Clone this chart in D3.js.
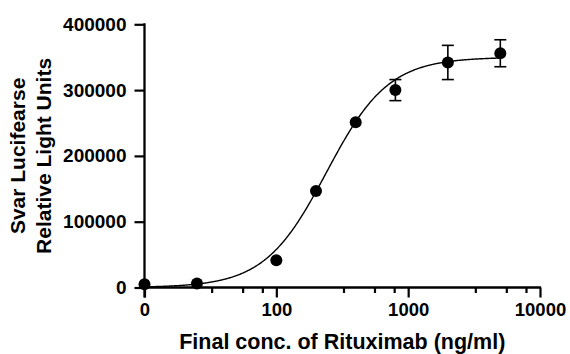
<!DOCTYPE html>
<html>
<head>
<meta charset="utf-8">
<script src="https://cdn.jsdelivr.net/npm/d3@7"></script>
<style>
  html, body { margin: 0; padding: 0; background: #fff; }
  svg { display: block; font-family: "Liberation Sans", Arial, sans-serif; font-weight: bold; }
</style>
</head>
<body>
<svg id="chart" width="570" height="354"></svg>
<script>
// ---- data ----
const concentrations = [0, 25, 100, 200, 400, 800, 2000, 5000];          // ng/ml
const rluMeans       = [5000, 6000, 41500, 146500, 251000, 300000, 342000, 356000];
const rluErrors      = [0, 0, 0, 0, 0, 16000, 26000, 20500];
// fitted 4-parameter logistic curve parameters
const fitBottom = 0, fitTop = 350000, fitEC50 = 240, fitHill = 1.85;
const xTickValues = [10, 100, 1000, 10000];
const xTickLabels = ["0", "100", "1000", "10000"];
const xMinorTicks = [32.6, 56, 79, 326, 560, 790, 3260, 5600, 7900];
const yTickValues = [0, 100000, 200000, 300000, 400000];
const xTitle = "Final conc. of Rituximab (ng/ml)";
const yTitleLines = ["Svar Lucifearse", "Relative Light Units"];

(function () {
// ---- layout ----
const svg = d3.select("#chart");
const pLeft = 144.5, pRight = 540, pTop = 24.3, pBottom = 287.5;
const x = d3.scaleLog().domain([10, 10000]).range([pLeft, pRight]);
const y = d3.scaleLinear().domain([0, 400000]).range([pBottom, pTop]);
const xPos = c => x(c <= 0 ? 10 : c);

// curve
const fit = c => fitBottom + (fitTop - fitBottom) / (1 + Math.pow(fitEC50 / c, fitHill));
const curveX = d3.range(0, 501).map(i => Math.pow(10, 1 + i * (Math.log10(5000) - 1) / 500));
svg.append("path")
  .datum(curveX)
  .attr("fill", "none").attr("stroke", "#000").attr("stroke-width", 1.4)
  .attr("d", d3.line().x(c => x(c)).y(c => y(fit(c))));

// axes
const xAxis = svg.append("g").attr("transform", `translate(0,${pBottom})`)
  .call(d3.axisBottom(x).tickValues(xTickValues).tickSize(10).tickPadding(5)
        .tickFormat((d, i) => xTickLabels[i]));
xAxis.select(".domain").attr("stroke", "#000").attr("stroke-width", 2.3).attr("d", `M${pLeft - 1},0H${pRight + 1}`);
xAxis.selectAll(".tick line").attr("stroke", "#000").attr("stroke-width", 2.2);
xAxis.selectAll(".tick text").attr("font-size", 18.5).attr("fill", "#000")
  .attr("font-family", "Liberation Sans, Arial, sans-serif").attr("font-weight", "bold");
svg.append("g").selectAll("line").data(xMinorTicks).join("line")
  .attr("x1", d => x(d)).attr("x2", d => x(d))
  .attr("y1", pBottom).attr("y2", pBottom + 5.5)
  .attr("stroke", "#000").attr("stroke-width", 2.2);

const yAxis = svg.append("g").attr("transform", `translate(${pLeft},0)`)
  .call(d3.axisLeft(y).tickValues(yTickValues).tickSize(10).tickPadding(8).tickFormat(d3.format("d")));
yAxis.select(".domain").attr("stroke", "#000").attr("stroke-width", 2.3).attr("d", `M0,${pBottom + 10}V${pTop - 1}`);
yAxis.selectAll(".tick line").attr("stroke", "#000").attr("stroke-width", 2.2);
yAxis.selectAll(".tick text").attr("font-size", 19).attr("fill", "#000")
  .attr("font-family", "Liberation Sans, Arial, sans-serif").attr("font-weight", "bold");

// error bars
const eb = svg.append("g").attr("stroke", "#000").attr("stroke-width", 1.6);
concentrations.forEach((c, i) => {
  if (rluErrors[i] <= 0) return;
  const cx = xPos(c), y1 = y(rluMeans[i] + rluErrors[i]), y0 = y(rluMeans[i] - rluErrors[i]);
  eb.append("line").attr("x1", cx).attr("x2", cx).attr("y1", y1).attr("y2", y0);
  eb.append("line").attr("x1", cx - 6).attr("x2", cx + 6).attr("y1", y1).attr("y2", y1);
  eb.append("line").attr("x1", cx - 6).attr("x2", cx + 6).attr("y1", y0).attr("y2", y0);
});

// points
svg.append("g").selectAll("circle").data(concentrations).join("circle")
  .attr("cx", d => xPos(d)).attr("cy", (d, i) => y(rluMeans[i])).attr("r", 6)
  .attr("fill", "#000");

// titles
svg.append("text").attr("x", (pLeft + pRight) / 2).attr("y", 349)
  .attr("text-anchor", "middle").attr("font-size", 21.5).attr("fill", "#000")
  .text(xTitle);
const yt = svg.append("text").attr("transform", `translate(0,${(pTop + pBottom) / 2}) rotate(-90)`)
  .attr("text-anchor", "middle").attr("font-size", 21).attr("fill", "#000");
yt.selectAll("tspan").data(yTitleLines).join("tspan")
  .attr("x", 0).attr("y", (d, i) => i === 0 ? 24.5 : 50.7).text(d => d);
})();
</script>
</body>
</html>
